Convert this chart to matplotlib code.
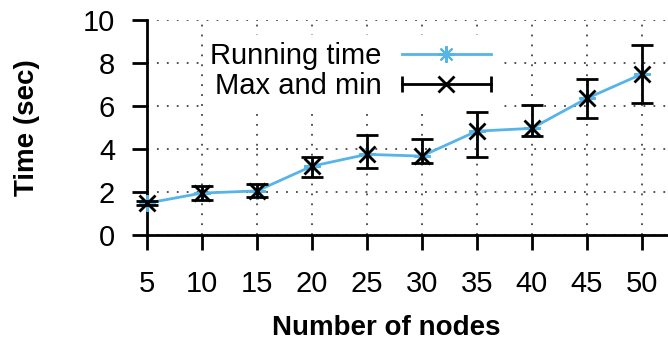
import matplotlib
matplotlib.use('Agg')
from matplotlib import pyplot as plt
from matplotlib.lines import Line2D
from matplotlib.legend_handler import HandlerBase
import numpy as np

plt.rcParams['font.family'] = ['Liberation Sans', 'DejaVu Sans']

# data
nodes = [5, 10, 15, 20, 25, 30, 35, 40, 45, 50]
run_time = [1.48, 1.95, 2.05, 3.2, 3.75, 3.67, 4.83, 4.96, 6.35, 7.48]
t_max = [1.6, 2.28, 2.36, 3.64, 4.65, 4.45, 5.73, 6.05, 7.24, 8.84]
t_min = [1.38, 1.63, 1.75, 2.71, 3.13, 3.33, 3.61, 4.6, 5.44, 6.15]

blue = '#56B4E9'
fs = 21


class CapHandler(HandlerBase):
    # horizontal bar with end caps, like the gnuplot key for error bars
    def create_artists(self, legend, orig_handle, xdescent, ydescent,
                       width, height, fontsize, trans):
        y = height / 2 - ydescent
        x0, x1 = -xdescent, width - xdescent
        line = Line2D([x0, x1], [y, y], color='k', lw=2)
        caps = Line2D([x0, x1], [y, y], ls='none', marker='|', ms=12,
                      mew=2, color='k')
        mid = Line2D([(x0 + x1) / 2], [y], ls='none', marker='x', ms=12,
                     mew=2, color='k')
        for a in (line, caps, mid):
            a.set_transform(trans)
        return [line, caps, mid]


fig = plt.figure(figsize=(6.68, 3.43), dpi=100)
ax = fig.add_axes([147 / 668, 1 - 235 / 343, 521 / 668, 215 / 343])

x = np.array(nodes)
y = np.array(run_time)
lo = y - np.array(t_min)
hi = np.array(t_max) - y

ax.plot(x, y, color=blue, lw=2, marker=(8, 2, 0), ms=12, mew=1.5,
        zorder=3, clip_on=False)
eb = ax.errorbar(x, y, yerr=[lo, hi], fmt='x', color='k', ms=12, mew=2,
                 elinewidth=2, capsize=8, capthick=2, zorder=4)
eb[0].set_clip_on(False)
for c in eb[1]:
    c.set_clip_on(False)
for c in eb[2]:
    c.set_clip_on(False)

ax.set_xlim(5, 52.4)
ax.set_ylim(0, 10)
ax.set_xticks(nodes)
ax.set_yticks([0, 2, 4, 6, 8, 10])

for s in ('top', 'right'):
    ax.spines[s].set_visible(False)
for s in ('left', 'bottom'):
    ax.spines[s].set_linewidth(2)

ax.tick_params(direction='out', length=11, width=2, labelsize=fs)
ax.tick_params(axis='x', pad=14)
ax.tick_params(axis='y', pad=12)

ax.grid(True, color='#444444', lw=1.3, ls=(0, (1, 4.5)))
ax.set_axisbelow(True)

ax.set_xlabel('Number of nodes', fontsize=20, fontweight='bold')
ax.set_ylabel('Time (sec)', fontsize=20, fontweight='bold')
ax.xaxis.set_label_coords(0.459, -0.37)
ax.yaxis.set_label_coords(-0.205, 0.5)

h1 = Line2D([], [], color=blue, lw=2, marker=(8, 2, 0), ms=12, mew=1.5)
h2 = object()
leg = ax.legend([h1, h2], ['Running time', 'Max and min'],
                handler_map={object: CapHandler()},
                loc='upper right', bbox_to_anchor=(0.674, 0.93),
                borderaxespad=0, markerfirst=False, fontsize=fs,
                handlelength=3.05, handletextpad=0.7, labelspacing=0.05,
                borderpad=0.25, frameon=True, fancybox=False,
                framealpha=1, facecolor='white', edgecolor='none')
leg.set_zorder(2)

fig.savefig('out.png', dpi=100)
